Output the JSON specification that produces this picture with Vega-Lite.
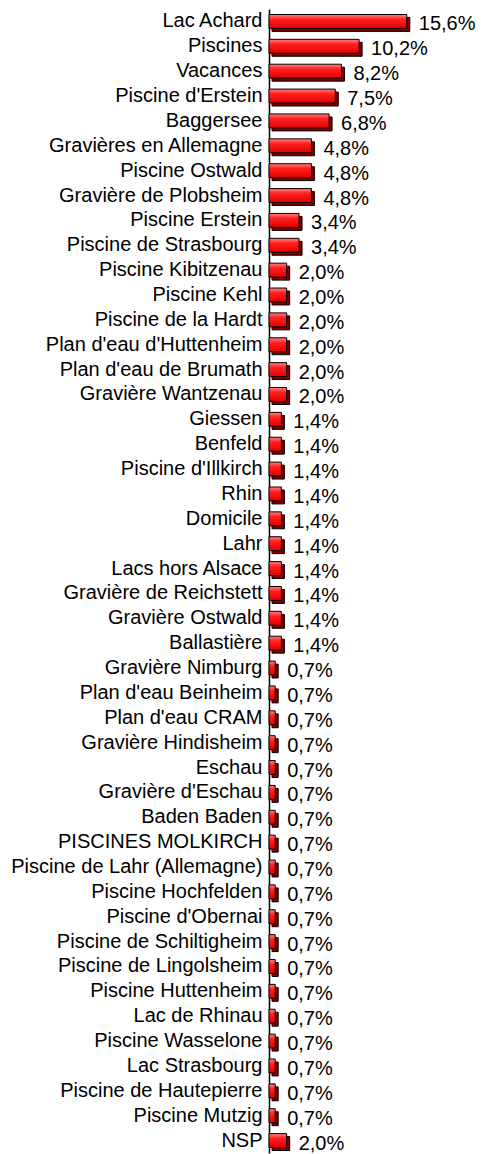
{
  "$schema": "https://vega.github.io/schema/vega-lite/v6.json",
  "width": 212,
  "height": 1144,
  "autosize": "none",
  "padding": {"left": 269, "top": 9, "right": 0, "bottom": 1},
  "background": "white",
  "config": {
    "view": {"stroke": null},
    "locale": {"number": {"decimal": ",", "thousands": ".", "grouping": [3], "currency": ["", " €"]}}
  },
  "data": {
    "values": [
      {"lieu": "Lac Achard", "part": 0.156},
      {"lieu": "Piscines", "part": 0.102},
      {"lieu": "Vacances", "part": 0.082},
      {"lieu": "Piscine d'Erstein", "part": 0.075},
      {"lieu": "Baggersee", "part": 0.068},
      {"lieu": "Gravières en Allemagne", "part": 0.048},
      {"lieu": "Piscine Ostwald", "part": 0.048},
      {"lieu": "Gravière de Plobsheim", "part": 0.048},
      {"lieu": "Piscine Erstein", "part": 0.034},
      {"lieu": "Piscine de Strasbourg", "part": 0.034},
      {"lieu": "Piscine Kibitzenau", "part": 0.020},
      {"lieu": "Piscine Kehl", "part": 0.020},
      {"lieu": "Piscine de la Hardt", "part": 0.020},
      {"lieu": "Plan d'eau d'Huttenheim", "part": 0.020},
      {"lieu": "Plan d'eau de Brumath", "part": 0.020},
      {"lieu": "Gravière Wantzenau", "part": 0.020},
      {"lieu": "Giessen", "part": 0.014},
      {"lieu": "Benfeld", "part": 0.014},
      {"lieu": "Piscine d'Illkirch", "part": 0.014},
      {"lieu": "Rhin", "part": 0.014},
      {"lieu": "Domicile", "part": 0.014},
      {"lieu": "Lahr", "part": 0.014},
      {"lieu": "Lacs hors Alsace", "part": 0.014},
      {"lieu": "Gravière de Reichstett", "part": 0.014},
      {"lieu": "Gravière Ostwald", "part": 0.014},
      {"lieu": "Ballastière", "part": 0.014},
      {"lieu": "Gravière Nimburg", "part": 0.007},
      {"lieu": "Plan d'eau Beinheim", "part": 0.007},
      {"lieu": "Plan d'eau CRAM", "part": 0.007},
      {"lieu": "Gravière Hindisheim", "part": 0.007},
      {"lieu": "Eschau", "part": 0.007},
      {"lieu": "Gravière d'Eschau", "part": 0.007},
      {"lieu": "Baden Baden", "part": 0.007},
      {"lieu": "PISCINES MOLKIRCH", "part": 0.007},
      {"lieu": "Piscine de Lahr (Allemagne)", "part": 0.007},
      {"lieu": "Piscine Hochfelden", "part": 0.007},
      {"lieu": "Piscine d'Obernai", "part": 0.007},
      {"lieu": "Piscine de Schiltigheim", "part": 0.007},
      {"lieu": "Piscine de Lingolsheim", "part": 0.007},
      {"lieu": "Piscine Huttenheim", "part": 0.007},
      {"lieu": "Lac de Rhinau", "part": 0.007},
      {"lieu": "Piscine Wasselone", "part": 0.007},
      {"lieu": "Lac Strasbourg", "part": 0.007},
      {"lieu": "Piscine de Hautepierre", "part": 0.007},
      {"lieu": "Piscine Mutzig", "part": 0.007},
      {"lieu": "NSP", "part": 0.020}
    ]
  },
  "encoding": {
    "y": {
      "field": "lieu",
      "type": "nominal",
      "sort": null,
      "title": null,
      "scale": {"paddingInner": 0.44, "paddingOuter": 0.22},
      "axis": {
        "ticks": false,
        "labelPadding": 7,
        "labelLimit": 400,
        "labelFont": "Liberation Sans",
        "labelFontSize": 20,
        "labelColor": "black",
        "domainColor": "black",
        "domainWidth": 1.5,
        "grid": false
      }
    },
    "x": {
      "field": "part",
      "type": "quantitative",
      "scale": {"domain": [0, 0.24]},
      "axis": null
    }
  },
  "layer": [
    {
      "mark": {"type": "bar", "fill": "#800000", "stroke": "black", "strokeWidth": 1, "xOffset": 3, "yOffset": 3}
    },
    {
      "mark": {
        "type": "bar",
        "fill": {
          "gradient": "linear",
          "x1": 0, "y1": 0, "x2": 0, "y2": 1,
          "stops": [
            {"offset": 0, "color": "#ff8080"},
            {"offset": 0.35, "color": "#ff2020"},
            {"offset": 1, "color": "#e00000"}
          ]
        },
        "stroke": "black",
        "strokeWidth": 1
      }
    },
    {
      "mark": {"type": "text", "align": "left", "baseline": "middle", "dx": 12, "dy": 3, "fontSize": 20, "font": "Liberation Sans", "color": "black"},
      "encoding": {"text": {"field": "part", "format": ".1%"}}
    }
  ]
}
